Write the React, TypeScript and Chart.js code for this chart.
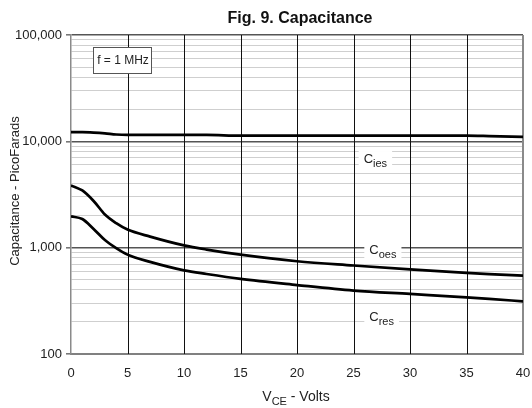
import React, { useEffect, useRef } from "react";
import { Chart, registerables } from "chart.js";

Chart.register(...registerables);

// ---- data ----
const vce = [0, 1, 2, 3, 4, 5, 7, 10, 12, 15, 20, 25, 30, 35, 37, 40];
const cies = [12200, 12200, 12100, 11900, 11600, 11500, 11500, 11500, 11500, 11300, 11300, 11300, 11300, 11300, 11200, 11000];
const coes = [3850, 3450, 2750, 2050, 1700, 1480, 1270, 1050, 960, 860, 745, 680, 625, 580, 565, 545];
const cres = [1970, 1860, 1500, 1180, 990, 860, 735, 612, 565, 508, 445, 395, 367, 341, 330, 313];

const xTicks = [0, 5, 10, 15, 20, 25, 30, 35, 40];
const yDecades = [100, 1000, 10000, 100000];
const yMultipliers = [1, 2, 3, 4, 5, 6, 7, 8, 9];

const titleText = "Fig. 9. Capacitance";
const yTitleText = "Capacitance - PicoFarads";
const noteText = "f = 1 MHz";

const FONT = "'Liberation Sans', Arial, Helvetica, sans-serif";

const yTickValues: number[] = [];
for (let i = 0; i < yDecades.length - 1; i++) {
  for (const m of yMultipliers) yTickValues.push(yDecades[i] * m);
}
yTickValues.push(yDecades[yDecades.length - 1]);

const toPoints = (ys: number[]) => vce.map((x, i) => ({ x, y: ys[i] }));

export default function App() {
  const ref = useRef<HTMLCanvasElement>(null);

  useEffect(() => {
    document.body.style.margin = "0";
    const canvas = ref.current;
    if (!canvas) return;

    const drawSub = (
      ctx: CanvasRenderingContext2D,
      main: string,
      sub: string,
      x: number,
      y: number
    ) => {
      ctx.font = `13px ${FONT}`;
      const w1 = ctx.measureText(main).width;
      ctx.font = `11px ${FONT}`;
      const w2 = ctx.measureText(sub).width;
      ctx.fillStyle = "#fff";
      ctx.fillRect(x - 5, y - 12, w1 + w2 + 10, 19);
      ctx.fillStyle = "#222";
      ctx.textAlign = "left";
      ctx.textBaseline = "alphabetic";
      ctx.font = `13px ${FONT}`;
      ctx.fillText(main, x, y);
      ctx.font = `11px ${FONT}`;
      ctx.fillText(sub, x + w1, y + 4);
    };

    const overlay = {
      id: "overlay",
      beforeDatasetsDraw(chart: any) {
        const ctx: CanvasRenderingContext2D = chart.ctx;
        const xs = chart.scales.x;
        const area = chart.chartArea;
        ctx.save();
        for (const v of xTicks) {
          if (v === xTicks[0]) continue;
          const last = v === xTicks[xTicks.length - 1];
          const px = Math.round(xs.getPixelForValue(v));
          ctx.beginPath();
          ctx.strokeStyle = last ? "#8a8a8a" : "#111";
          ctx.lineWidth = last ? 2 : 1;
          const off = last ? 0 : 0.5;
          ctx.moveTo(px + off, area.top);
          ctx.lineTo(px + off, area.bottom);
          ctx.stroke();
        }
        ctx.restore();
      },
      afterDatasetsDraw(chart: any) {
        const ctx: CanvasRenderingContext2D = chart.ctx;
        const xs = chart.scales.x;
        const ys = chart.scales.y;
        const area = chart.chartArea;
        ctx.save();
        // curve labels
        drawSub(ctx, "C", "ies", xs.getPixelForValue(25.9), ys.getPixelForValue(6250));
        drawSub(ctx, "C", "oes", xs.getPixelForValue(26.4), ys.getPixelForValue(873));
        drawSub(ctx, "C", "res", xs.getPixelForValue(26.4), ys.getPixelForValue(206));
        // note box
        const bx = area.left + 22;
        const by = area.top + 12;
        const bw = 58;
        const bh = 26;
        ctx.fillStyle = "#fff";
        ctx.fillRect(bx, by, bw, bh);
        ctx.strokeStyle = "#555";
        ctx.lineWidth = 1;
        ctx.strokeRect(bx + 0.5, by + 0.5, bw, bh);
        ctx.fillStyle = "#222";
        ctx.font = `12px ${FONT}`;
        ctx.textAlign = "center";
        ctx.textBaseline = "middle";
        ctx.fillText(noteText, bx + bw / 2 + 1, by + bh / 2 + 1);
        ctx.restore();
      },
      afterDraw(chart: any) {
        const ctx: CanvasRenderingContext2D = chart.ctx;
        ctx.save();
        ctx.fillStyle = "#111";
        // title
        ctx.font = `bold 16px ${FONT}`;
        ctx.textAlign = "center";
        ctx.textBaseline = "middle";
        ctx.fillText(titleText, 300, 19);
        // y title
        ctx.save();
        ctx.translate(15, 191);
        ctx.rotate(-Math.PI / 2);
        ctx.font = `13px ${FONT}`;
        ctx.fillStyle = "#222";
        ctx.fillText(yTitleText, 0, 0);
        ctx.restore();
        // x title with subscript
        ctx.fillStyle = "#222";
        ctx.textBaseline = "alphabetic";
        ctx.textAlign = "left";
        const p1 = "V";
        const p2 = "CE";
        const p3 = " - Volts";
        ctx.font = `14px ${FONT}`;
        const w1 = ctx.measureText(p1).width;
        const w3 = ctx.measureText(p3).width;
        ctx.font = `11px ${FONT}`;
        const w2 = ctx.measureText(p2).width;
        const total = w1 + w2 + w3;
        let x = 296 - total / 2;
        const base = 401;
        ctx.font = `14px ${FONT}`;
        ctx.fillText(p1, x, base);
        x += w1;
        ctx.font = `11px ${FONT}`;
        ctx.fillText(p2, x, base + 4);
        x += w2;
        ctx.font = `14px ${FONT}`;
        ctx.fillText(p3, x, base);
        ctx.restore();
      },
    };

    const chart = new Chart(canvas, {
      type: "line",
      data: {
        datasets: [
          { label: "Cies", data: toPoints(cies) },
          { label: "Coes", data: toPoints(coes) },
          { label: "Cres", data: toPoints(cres) },
        ].map((d) => ({
          ...d,
          borderColor: "#000",
          borderWidth: 2.7,
          pointRadius: 0,
          fill: false,
          cubicInterpolationMode: "monotone" as const,
        })),
      },
      options: {
        animation: false,
        responsive: false,
        devicePixelRatio: 1,
        layout: { padding: { top: 35, right: 9, left: 0, bottom: 0 } },
        plugins: {
          legend: { display: false },
          title: { display: false },
          tooltip: { enabled: false },
        },
        scales: {
          x: {
            type: "linear",
            min: 0,
            max: 40,
            afterFit(scale: any) {
              scale.height = 54;
              scale.paddingLeft = 0;
              scale.paddingRight = 0;
            },
            afterBuildTicks(scale: any) {
              scale.ticks = xTicks.map((v) => ({ value: v }));
            },
            grid: {
              drawTicks: false,
              color: "rgba(0,0,0,0)",
            },
            border: { display: true, color: "#808080", width: 2 },
            ticks: {
              autoSkip: false,
              maxRotation: 0,
              padding: 12,
              color: "#222",
              font: { family: FONT, size: 13 },
              callback: (v: any) => String(v),
            },
          },
          y: {
            type: "logarithmic",
            min: 100,
            max: 100000,
            afterFit(scale: any) {
              scale.width = 71;
              scale.paddingTop = 0;
              scale.paddingBottom = 0;
            },
            afterBuildTicks(scale: any) {
              scale.ticks = yTickValues.map((v) => ({ value: v }));
            },
            grid: {
              tickLength: 5,
              color: (c: any) =>
                c.tick && yDecades.includes(c.tick.value) ? "#555" : "#cfcfcf",
              lineWidth: (c: any) =>
                c.tick && yDecades.includes(c.tick.value) ? 1.6 : 1,
              tickColor: (c: any) =>
                c.tick && yDecades.includes(c.tick.value) ? "#777" : "rgba(0,0,0,0)",
            },
            border: { display: true, color: "#8a8a8a", width: 1.5 },
            ticks: {
              autoSkip: false,
              padding: 4,
              color: "#222",
              font: { family: FONT, size: 13 },
              callback: (v: any) =>
                yDecades.includes(Number(v)) ? Number(v).toLocaleString("en-US") : "",
            },
          },
        },
      },
      plugins: [overlay],
    });

    return () => chart.destroy();
  }, []);

  return (
    <div style={{ position: "relative", width: 532, height: 408 }}>
      <canvas ref={ref} width={532} height={408} />
    </div>
  );
}
